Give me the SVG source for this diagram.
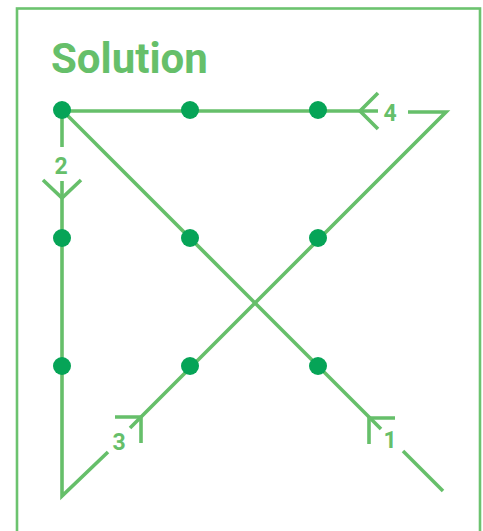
<svg xmlns="http://www.w3.org/2000/svg" width="483" height="531" viewBox="0 0 483 531">
<style>
.frame{fill:none;stroke:#6cc36f;stroke-width:2.6}
.ln{fill:none;stroke:#66bf6a;stroke-width:3.6;stroke-linecap:butt;stroke-linejoin:miter}
.dot{fill:#06a457}
.lbl{font-family:Roboto,"Liberation Sans",sans-serif;font-weight:bold;font-size:23px;fill:#66bf6a;text-anchor:middle}
.title{font-family:Roboto,"Liberation Sans",sans-serif;font-weight:bold;font-size:42px;fill:#66bf6a}
</style>
<rect class="frame" x="17" y="8.5" width="463" height="540"/>
<text class="title" x="51" y="73">Solution</text>
<g id="connectors">
  <path class="ln" d="M443,491 L403,451"/>
  <path class="ln" d="M381,429 L62,110"/>
  <path class="ln" d="M395,418 L369,418 L369,444"/>
  <path class="ln" d="M62,110 L62,147"/>
  <path class="ln" d="M62,181 L62,496 L108,452"/>
  <path class="ln" d="M43,180 L62,198 L81,180"/>
  <path class="ln" d="M130,428 L446,112 L408,112"/>
  <path class="ln" d="M115,417 L141,417 L141,443"/>
  <path class="ln" d="M378,111 L62,111"/>
  <path class="ln" d="M378,93 L360,111 L378,129"/>
</g>
<g id="dots">
  <circle class="dot" cx="62" cy="110" r="9"/>
  <circle class="dot" cx="190" cy="110" r="9"/>
  <circle class="dot" cx="318" cy="110" r="9"/>
  <circle class="dot" cx="62" cy="238" r="9"/>
  <circle class="dot" cx="190" cy="238" r="9"/>
  <circle class="dot" cx="318" cy="238" r="9"/>
  <circle class="dot" cx="62" cy="366" r="9"/>
  <circle class="dot" cx="190" cy="366" r="9"/>
  <circle class="dot" cx="318" cy="366" r="9"/>
</g>
<g id="labels">
  <text class="lbl" x="390" y="448">1</text>
  <text class="lbl" x="61" y="174">2</text>
  <text class="lbl" x="119" y="450">3</text>
  <text class="lbl" x="390" y="121">4</text>
</g>
</svg>
